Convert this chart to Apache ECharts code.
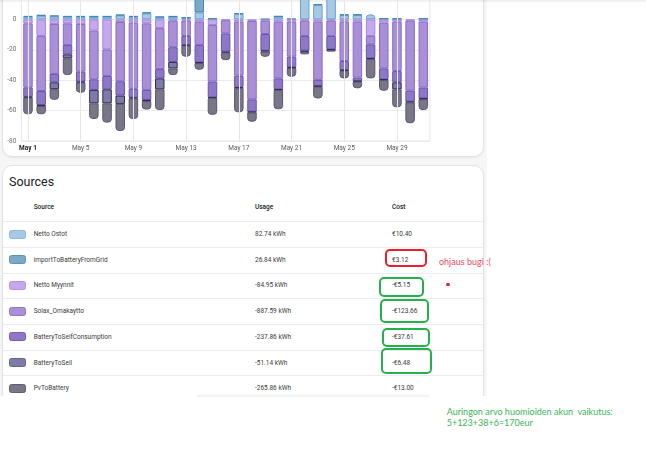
<!DOCTYPE html>
<html>
<head>
<meta charset="utf-8">
<script src="https://cdn.jsdelivr.net/npm/echarts@6/dist/echarts.min.js"></script>
<style>
  body { margin: 0; width: 646px; height: 450px; position: relative; overflow: hidden; background: #fff; font-family: Roboto, sans-serif; }
  .abs { position: absolute; }
  .card { position: absolute; background: #fff; border: 1px solid #e3e3e3; border-radius: 10px; box-shadow: 0 1px 2px rgba(0,0,0,0.06); }
  .cell { position: absolute; height: 12px; line-height: 12px; font-size: 6.5px; color: #3a3a3a; white-space: nowrap; }
  .hline { position: absolute; left: 3px; width: 480px; height: 1px; background: #ececec; }
  .swatch { position: absolute; left: 9px; width: 17px; height: 9px; border-radius: 2.5px; box-sizing: border-box; border: 1px solid; }
  .mark { position: absolute; box-sizing: border-box; border: 2px solid; border-radius: 5px; }
  .note { position: absolute; font-family: Lato, sans-serif; font-size: 9px; white-space: nowrap; line-height: 11px; }
</style>
</head>
<body>
<div class="abs" style="left:0;top:0;width:487px;height:396px;background:#f6f6f6"></div>
<div class="card" style="left:2px;top:-12px;width:480px;height:167px"></div>
<div class="abs" style="left:0;top:0;width:646px;height:396px;overflow:hidden">
  <div class="card" id="sources" style="left:2px;top:165px;width:480px;height:260px"></div>
</div>
<div class="abs" style="left:197px;top:395px;width:232px;height:3px;background:linear-gradient(rgba(0,0,0,0.07),rgba(0,0,0,0))"></div>
<div class="abs" style="left:0;top:0;width:646px;height:3px;background:linear-gradient(rgba(0,0,0,0.08),rgba(0,0,0,0))"></div>
<div id="chart" class="abs" style="left:0;top:-40px;width:484px;height:200px"></div>
<div id="table"></div>
<div id="notes"></div>
<script>
const days = ['May 1', 'May 2', 'May 3', 'May 4', 'May 5', 'May 6', 'May 7', 'May 8', 'May 9', 'May 10',
  'May 11', 'May 12', 'May 13', 'May 14', 'May 15', 'May 16', 'May 17', 'May 18', 'May 19', 'May 20',
  'May 21', 'May 22', 'May 23', 'May 24', 'May 25', 'May 26', 'May 27', 'May 28', 'May 29', 'May 30', 'May 31'];

// kWh per day
const nettoOstot = [1.7, 2.4, 2.0, 1.7, 1.7, 1.7, 1.7, 2.6, 1.7, 4.0, 1.4, 1.7, 1.0, 4.6, 0.3, 0, 3.6, 0, 0, 1.8,
  0, 16.5, 9.4, 16.0, 2.8, 2.8, 3.3, 0.3, 0.2, 0, 0.3];
const importToBatteryFromGrid = [0.5, 0.5, 0.5, 0.5, 0.5, 0.5, 0.5, 0.5, 0.5, 0.6, 0.4, 0.5, 0.4, 14.0, 0.4, 0, 0.4, 0, 0.3, 0.4,
  0.5, 0, 0.7, 0, 0.5, 0.5, 0, 0.4, 0.5, 0, 0.4];
const nettoMyynnit = [-2.6, -10.9, -3.0, -2.6, -3.0, -7.4, -19.7, -1.7, -2.1, -2.6, -5.7, -0.8, -0.8, -1.5, -3.7, -0.6,
  -1.5, -1.0, -0.8, -1.5, -1.5, -0.8, -1.5, -0.8, -1.5, -1.5, -10.9, -2.1, -1.5, -0.8, -1.5];
const solaxOmakaytto = [-42.1, -36.2, -32.9, -14.2, -31.4, -32.0, -17.5, -39.0, -43.6, -43.8, -27.0, -17.5, -10.1, -15.3,
  -37.2, -8.6, -35.5, -51.6, -8.8, -37.3, -23.0, -10.1, -38.3, -10.1, -25.9, -36.8, -5.5, -30.1, -32.5, -46.1, -43.4];
const batteryToSelfConsumption = [-6.3, -9.2, -5.5, -6.2, -6.6, -7.0, -8.8, -9.4, -5.8, -6.6, -6.1, -9.7, -6.0, -11.4,
  -10.4, -12.0, -7.7, -8.1, -11.0, -7.2, -7.0, -9.7, -4.0, -8.8, -5.9, -2.2, -9.2, -7.2, -7.4, -7.2, -7.0];
const batteryToSell = [-0.5, -0.7, -4.5, -2.6, -0.5, -8.8, -9.2, -5.5, -0.5, -0.7, -7.2, -4.2, -0.4, -0.5, -0.5, -0.7,
  -0.5, -0.5, -0.5, -0.5, -0.5, -0.7, -0.5, -0.5, -0.5, -0.5, -0.5, -0.5, -4.6, -0.5, -0.5];
const pvToBattery = [-10.9, -5.4, -7.0, -11.0, -6.7, -10.3, -12.7, -17.8, -13.5, -5.6, -13.6, -4.4, -7.2, -4.4, -11.0,
  -4.9, -15.9, -6.1, -3.5, -12.6, -5.7, -1.7, -7.7, -1.0, -5.0, -4.3, -12.7, -7.0, -11.8, -13.7, -7.2];

const yTicks = { min: -80, max: 20, interval: 20 };

// table
const sourceNames = ['Netto Ostot', 'importToBatteryFromGrid', 'Netto Myynnit', 'Solax_Omakaytto',
  'BatteryToSelfConsumption', 'BatteryToSell', 'PvToBattery'];
const sourceUsage = ['82.74 kWh', '26.84 kWh', '-84.95 kWh', '-887.59 kWh', '-237.86 kWh', '-51.14 kWh', '-265.86 kWh'];
const sourceCost = ['€10.40', '€3.12', '-€5.15', '-€123.66', '-€37.61', '-€6.48', '-€13.00'];

const fills = ['#a6c9e4', '#7aaac6', '#c4a9ec', '#a98fd6', '#8c78c4', '#7e7ba6', '#7a7688'];
const swatchBorders = ['#8cb9dd', '#5a96bc', '#b092e4', '#9377cb', '#735cb8', '#67638f', '#625e72'];
const barBorders = ['#6aa0cc', '#3f88b4', '#a585e0', '#8a6cc9', '#6b52b5', '#2f2c58', '#5a5670'];

const seriesData = [nettoOstot, importToBatteryFromGrid, nettoMyynnit, solaxOmakaytto,
  batteryToSelfConsumption, batteryToSell, pvToBattery];

// outermost segment of each stack gets the rounded end
const topIdx = days.map((d, i) => {
  let k = -1;
  seriesData.forEach((arr, s) => { if (arr[i] > 0) k = s; });
  return k;
});
const bottomIdx = days.map((d, i) => {
  let k = -1;
  seriesData.forEach((arr, s) => { if (arr[i] < 0) k = s; });
  return k;
});

const barSeries = seriesData.map((arr, s) => ({
  name: sourceNames[s],
  type: 'bar',
  stack: 'energy',
  barWidth: '72%',
  itemStyle: { color: fills[s], borderColor: barBorders[s], borderWidth: 1 },
  data: arr.map((v, i) => {
    if (!v) return null;
    let r = 0;
    if (v > 0 && topIdx[i] === s) r = [3, 3, 0, 0];
    if (v < 0 && bottomIdx[i] === s) r = [0, 0, 3, 3];
    return { value: v, itemStyle: { borderRadius: r } };
  })
}));

const labelDays = days.filter((d, i) => i % 4 === 0);

const chart = echarts.init(document.getElementById('chart'));
chart.setOption({
  animation: false,
  grid: { left: 21.4, right: 54.1, top: 29, bottom: 19, show: true, borderColor: '#e6e6e6', borderWidth: 1 },
  xAxis: {
    type: 'category',
    data: days,
    axisLine: { show: false },
    axisTick: { show: false },
    splitLine: { show: false },
    axisLabel: {
      interval: 3,
      margin: 4,
      fontSize: 6.5,
      fontFamily: 'Roboto',
      color: '#5a5a5a',
      formatter: (v, i) => (i === 0 ? '{b|' + v + '}' : v),
      rich: { b: { fontSize: 6.5, fontFamily: 'Roboto', fontWeight: 'bold', color: '#222' } }
    }
  },
  yAxis: {
    type: 'value',
    min: yTicks.min,
    max: yTicks.max,
    interval: yTicks.interval,
    axisLine: { show: false },
    axisTick: { show: false },
    axisLabel: { fontSize: 6.5, fontFamily: 'Roboto', color: '#6b6b6b', margin: 5 },
    splitLine: { lineStyle: { color: '#ebebeb', width: 1 } }
  },
  series: [
    {
      type: 'line',
      z: 1,
      silent: true,
      data: days.map(() => null),
      markLine: {
        silent: true,
        symbol: ['none', 'none'],
        label: { show: false },
        lineStyle: { color: '#e6e6e6', width: 1, type: 'solid' },
        data: labelDays.map(d => ({ xAxis: d }))
      }
    },
    ...barSeries
  ]
});

// Sources table
const rowLine0 = 221.3;
const rowStep = 25.67;
let html = '';
html += '<div class="abs" style="left:9px;top:176px;font-size:12.5px;line-height:12.5px;color:#212121">Sources</div>';
html += '<div class="cell" style="left:33.7px;top:201.3px;font-weight:500;color:#222">Source</div>';
html += '<div class="cell" style="left:255px;top:201.3px;font-weight:500;color:#222">Usage</div>';
html += '<div class="cell" style="left:392px;top:201.3px;font-weight:500;color:#222">Cost</div>';
sourceNames.forEach((name, i) => {
  const line = rowLine0 + i * rowStep;
  const cy = line + 12.8;
  html += '<div class="hline" style="top:' + line.toFixed(1) + 'px"></div>';
  html += '<div class="swatch" style="top:' + (cy - 4.5).toFixed(1) + 'px;background:' + fills[i] + ';border-color:' + swatchBorders[i] + '"></div>';
  html += '<div class="cell" style="left:33.7px;top:' + (cy - 6).toFixed(1) + 'px">' + name + '</div>';
  html += '<div class="cell" style="left:255px;top:' + (cy - 6).toFixed(1) + 'px">' + sourceUsage[i] + '</div>';
  html += '<div class="cell" style="left:392px;top:' + (cy - 6).toFixed(1) + 'px">' + sourceCost[i] + '</div>';
});
document.getElementById('table').innerHTML = html;

// hand-drawn annotations
const red = '#e8202e';
const green = '#23b14d';
document.getElementById('notes').innerHTML =
  '<div class="mark" style="left:385px;top:249px;width:42px;height:18px;border-color:' + red + '"></div>' +
  '<div class="note" style="left:439px;top:255.5px;color:#ef4b5f">ohjaus bugi :(</div>' +
  '<div class="abs" style="left:446.3px;top:282.5px;width:3.5px;height:3.5px;border-radius:50%;background:' + red + '"></div>' +
  '<div class="mark" style="left:379px;top:277px;width:45px;height:20px;border-color:' + green + '"></div>' +
  '<div class="mark" style="left:380px;top:299px;width:49px;height:24px;border-color:' + green + '"></div>' +
  '<div class="mark" style="left:381.5px;top:328.3px;width:48.5px;height:19px;border-color:' + green + '"></div>' +
  '<div class="mark" style="left:380.5px;top:348.3px;width:51.5px;height:25.7px;border-color:' + green + '"></div>' +
  '<div class="note" style="left:446.7px;top:405.5px;color:#3bb557">Auringon arvo huomioiden akun&nbsp; vaikutus:</div>' +
  '<div class="note" style="left:446.7px;top:416.8px;color:#3bb557">5+123+38+6=170eur</div>';
</script>
</body>
</html>
